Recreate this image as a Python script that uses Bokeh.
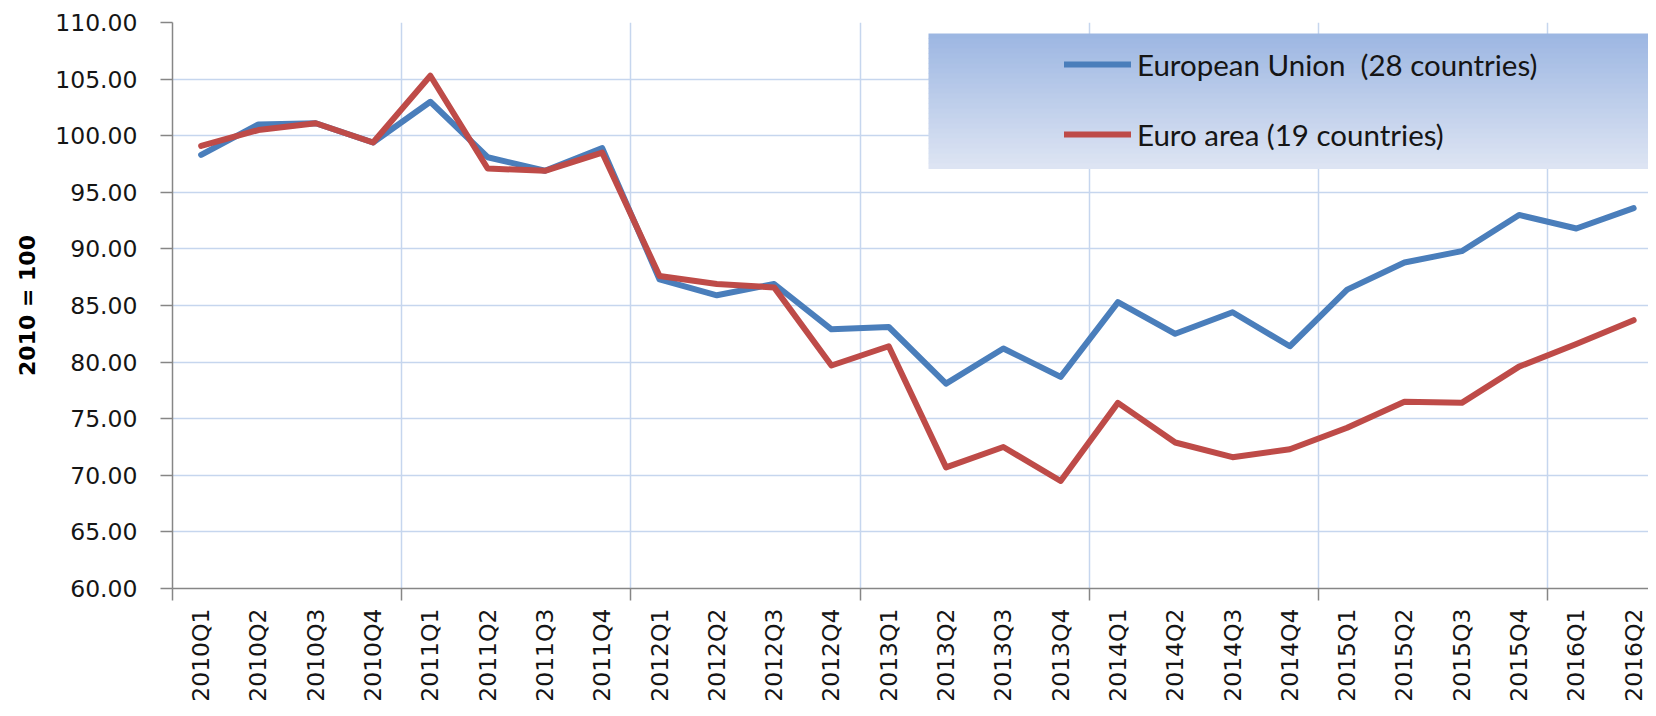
import math
from bokeh.plotting import figure
from bokeh.models import (Range1d, FixedTicker, NumeralTickFormatter, Legend,
                          LegendItem, BoxAnnotation)
from bokeh.embed import file_html
from bokeh.resources import INLINE

# ---------------- data ----------------
quarters = ["2010Q1", "2010Q2", "2010Q3", "2010Q4", "2011Q1", "2011Q2", "2011Q3", "2011Q4",
            "2012Q1", "2012Q2", "2012Q3", "2012Q4", "2013Q1", "2013Q2", "2013Q3", "2013Q4",
            "2014Q1", "2014Q2", "2014Q3", "2014Q4", "2015Q1", "2015Q2", "2015Q3", "2015Q4",
            "2016Q1", "2016Q2"]
eu28 = [98.3, 101.0, 101.1, 99.4, 103.0, 98.1, 96.9, 98.9,
        87.3, 85.9, 86.9, 82.9, 83.1, 78.1, 81.2, 78.7,
        85.3, 82.5, 84.4, 81.4, 86.4, 88.8, 89.8, 93.0,
        91.8, 93.6]
ea19 = [99.1, 100.5, 101.1, 99.4, 105.3, 97.1, 96.9, 98.5,
        87.6, 86.9, 86.6, 79.7, 81.4, 70.7, 72.5, 69.5,
        76.4, 72.9, 71.6, 72.3, 74.2, 76.5, 76.4, 79.6,
        81.6, 83.7]
series_names = ["European Union  (28 countries)", "Euro area (19 countries)"]
y_ticks = [60, 65, 70, 75, 80, 85, 90, 95, 100, 105, 110]
y_title = "2010 = 100"

# ---------------- layout ----------------
W, H = 1648, 708
LEFT, TOP, BOTTOM_BORDER = 172, 22, 120
CAT_PX = 57.3
frame_w = W - LEFT
n = len(quarters)
xs = list(range(n))

BLUE = "#4a7ebb"
RED = "#be4b48"
GRID = "#c6d6ee"
AXIS = "#868686"
TXT = "#151515"
TICK_FONT = "23.5px"

p = figure(width=W, height=H, output_backend="svg", toolbar_location=None,
           x_range=Range1d(-0.5, -0.5 + frame_w / CAT_PX),
           y_range=Range1d(y_ticks[0], y_ticks[-1]),
           min_border_left=LEFT, min_border_right=0, min_border_top=TOP,
           min_border_bottom=BOTTOM_BORDER)
p.outline_line_color = None
p.background_fill_color = "white"
p.border_fill_color = "white"

# x axis: labels at category centres, tick marks every 4 categories
bounds = [i - 0.5 for i in range(0, n, 4)]
p.xaxis.ticker = FixedTicker(ticks=xs, minor_ticks=bounds)
p.xaxis.major_label_overrides = {i: q for i, q in enumerate(quarters)}
p.xaxis.major_label_orientation = math.pi / 2
p.xaxis.major_tick_out = 0
p.xaxis.major_tick_in = 0
p.xaxis.minor_tick_out = 12
p.xaxis.minor_tick_in = 0
p.xaxis.minor_tick_line_color = AXIS
p.xaxis.minor_tick_line_width = 1.5
p.xaxis.major_label_standoff = 8
p.xaxis.major_label_text_font = "DejaVu Sans"
p.xaxis.major_label_text_font_size = TICK_FONT
p.xaxis.major_label_text_color = TXT
p.xaxis.axis_line_color = AXIS
p.xaxis.axis_line_width = 1.5

p.xgrid.ticker = FixedTicker(ticks=bounds[1:])
p.xgrid.grid_line_color = GRID
p.xgrid.grid_line_width = 1.5

# y axis
p.yaxis.ticker = FixedTicker(ticks=y_ticks)
p.yaxis.formatter = NumeralTickFormatter(format="0.00")
p.yaxis.major_tick_out = 12
p.yaxis.major_tick_in = 0
p.yaxis.minor_tick_line_color = None
p.yaxis.major_tick_line_color = AXIS
p.yaxis.major_tick_line_width = 1.5
p.yaxis.major_label_standoff = 23
p.yaxis.major_label_text_font = "DejaVu Sans"
p.yaxis.major_label_text_font_size = TICK_FONT
p.yaxis.major_label_text_color = TXT
p.yaxis.axis_line_color = AXIS
p.yaxis.axis_line_width = 1.5
p.yaxis.axis_label = y_title
p.yaxis.axis_label_text_font = "DejaVu Sans"
p.yaxis.axis_label_text_font_style = "bold"
p.yaxis.axis_label_text_font_size = "22px"
p.yaxis.axis_label_text_color = "#000000"
p.yaxis.axis_label_standoff = 12

p.ygrid.grid_line_color = GRID
p.ygrid.grid_line_width = 1.5

# lines
r_eu = p.line(xs, eu28, line_color=BLUE, line_width=6, line_join="round", line_cap="round")
r_ea = p.line(xs, ea19, line_color=RED, line_width=6, line_join="round", line_cap="round")

# legend background: vertical gradient built from thin bands (frame-relative screen units)
box_left, box_right = 756, frame_w + 10
box_top, box_bottom = 555, 420          # measured up from the frame bottom
top_rgb = (156, 182, 226)
bot_rgb = (222, 229, 243)
nb = 27
step = (box_top - box_bottom) / nb
for k in range(nb):
    t = (k + 0.5) / nb
    c = tuple(int(round(top_rgb[j] + (bot_rgb[j] - top_rgb[j]) * t)) for j in range(3))
    b = BoxAnnotation(left=box_left, right=box_right,
                      top=box_top - k * step, bottom=box_top - (k + 1) * step - 0.6,
                      left_units="screen", right_units="screen",
                      top_units="screen", bottom_units="screen",
                      fill_color="#%02x%02x%02x" % c, fill_alpha=1.0,
                      line_color=None)
    p.add_layout(b)

legend = Legend(items=[LegendItem(label=series_names[0], renderers=[r_eu]),
                       LegendItem(label=series_names[1], renderers=[r_ea])],
                location=(892, 434), orientation="vertical",
                padding=0, margin=0, spacing=30,
                glyph_width=67, glyph_height=40, label_height=40,
                label_standoff=6, label_text_font="Lato",
                label_text_font_size="29.5px", label_text_color=TXT,
                background_fill_alpha=0, border_line_alpha=0)
p.add_layout(legend)

open("out.html", "w").write(file_html(p, INLINE))
